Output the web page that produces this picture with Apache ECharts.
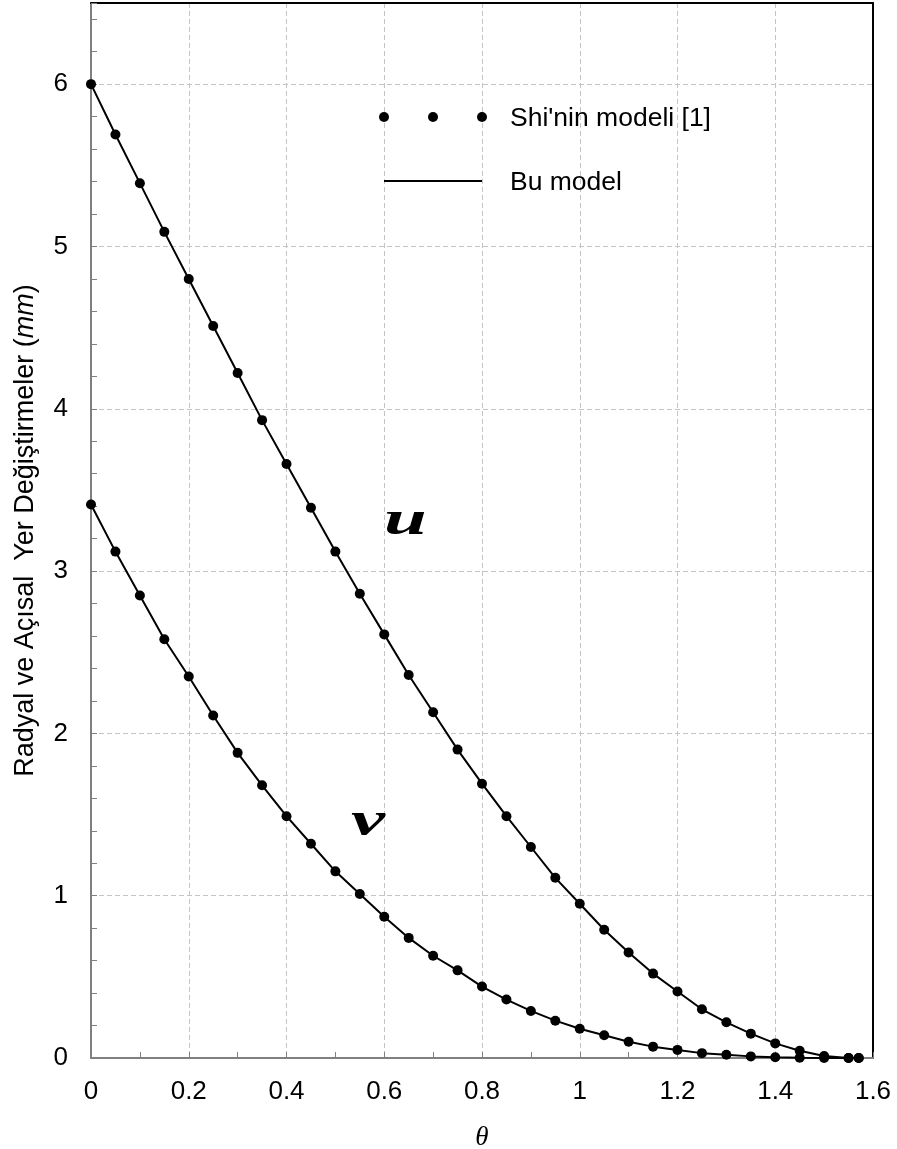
<!DOCTYPE html>
<html>
<head>
<meta charset="utf-8">
<script src="https://cdn.jsdelivr.net/npm/echarts@6/dist/echarts.min.js"></script>
<style>
  html, body { margin: 0; padding: 0; background: #fff; }
  #chart { width: 897px; height: 1149px; }
</style>
</head>
<body>
<div id="chart"></div>
<script>
// θ values (rad), from 0 to π/2
const theta = [0, 0.05, 0.1, 0.15, 0.2, 0.25, 0.3, 0.35, 0.4, 0.45, 0.5, 0.55, 0.6, 0.65, 0.7, 0.75,
  0.8, 0.85, 0.9, 0.95, 1.0, 1.05, 1.1, 1.15, 1.2, 1.25, 1.3, 1.35, 1.4, 1.45, 1.5, 1.55, 1.5708];

// radial displacement u (mm)
const uValues = [6.0, 5.69, 5.39, 5.09, 4.80, 4.51, 4.22, 3.93, 3.66, 3.39, 3.12, 2.86, 2.61, 2.36, 2.13, 1.90,
  1.69, 1.49, 1.30, 1.11, 0.95, 0.79, 0.65, 0.52, 0.41, 0.30, 0.22, 0.15, 0.09, 0.045, 0.012, 0.0, 0.0];

// angular displacement v (mm)
const vValues = [3.41, 3.12, 2.85, 2.58, 2.35, 2.11, 1.88, 1.68, 1.49, 1.32, 1.15, 1.01, 0.87, 0.74, 0.63, 0.54,
  0.44, 0.36, 0.29, 0.23, 0.18, 0.14, 0.10, 0.07, 0.05, 0.03, 0.02, 0.01, 0.005, 0.002, 0.0, 0.0, 0.0];

const legendNames = ["Shi'nin modeli [1]", 'Bu model'];
const curveLabels = ['u', 'v'];

const pairs = vals => theta.map((t, i) => [t, vals[i]]);

const sans = "'Liberation Sans', Arial, sans-serif";
const serif = "'Liberation Serif', 'Times New Roman', serif";
const gridLine = { show: true, lineStyle: { color: '#c4c4c4', type: [5, 3], width: 1 } };
const frameAxis = { axisLine: { show: true, onZero: false, lineStyle: { color: '#000', width: 2 } },
  axisTick: { show: false }, axisLabel: { show: false }, splitLine: { show: false } };

const chart = echarts.init(document.getElementById('chart'), null, { renderer: 'canvas' });

const lineSeries = (vals) => ({
  type: 'line', xAxisIndex: 0, yAxisIndex: 0, data: pairs(vals),
  smooth: false, showSymbol: false, silent: true,
  lineStyle: { color: '#000', width: 2 }, z: 3
});
const dotSeries = (vals) => ({
  type: 'scatter', xAxisIndex: 0, yAxisIndex: 0, data: pairs(vals),
  symbol: 'circle', symbolSize: 10, itemStyle: { color: '#000', opacity: 1 }, silent: true, z: 4
});

chart.setOption({
  animation: false,
  backgroundColor: '#fff',
  grid: { left: 91, right: 24, top: 3, bottom: 91, containLabel: false, outerBoundsMode: 'none' },
  xAxis: [{
    type: 'value', min: 0, max: 1.6, interval: 0.2,
    name: 'θ', nameLocation: 'middle', nameGap: 66,
    nameTextStyle: { fontFamily: serif, fontStyle: 'italic', fontSize: 27, color: '#000' },
    axisLine: { show: true, onZero: false, lineStyle: { color: '#808080', width: 2 } },
    axisTick: { show: true, inside: true, length: 6, lineStyle: { color: '#808080', width: 1 } },
    minorTick: { show: true, splitNumber: 2, length: 6, lineStyle: { color: '#808080', width: 1 } },
    axisLabel: { margin: 21, fontFamily: sans, fontSize: 26, color: '#000',
      formatter: v => String(Math.round(v * 10) / 10) },
    splitLine: gridLine
  }, Object.assign({ type: 'value', min: 0, max: 1.6, position: 'top' }, frameAxis)],
  yAxis: [{
    type: 'value', min: 0, max: 6.5, interval: 1,
    name: 'Radyal ve Açısal  Yer Değiştirmeler ({i|mm})', nameLocation: 'middle', nameGap: 52,
    nameTextStyle: { fontFamily: sans, fontSize: 27, color: '#000',
      rich: { i: { fontFamily: sans, fontSize: 27, fontStyle: 'italic', color: '#000' } } },
    axisLine: { show: true, onZero: false, lineStyle: { color: '#808080', width: 2 } },
    axisTick: { show: true, inside: true, length: 6, lineStyle: { color: '#808080', width: 1 } },
    axisLabel: { margin: 23, fontFamily: sans, fontSize: 26, color: '#000', showMaxLabel: false },
    splitLine: gridLine
  }, {
    // fine tick marks every 0.2 along the left edge
    type: 'value', min: 0, max: 6.5, interval: 0.2, position: 'left',
    axisLine: { show: false },
    axisTick: { show: true, inside: true, length: 6, lineStyle: { color: '#808080', width: 1 } },
    axisLabel: { show: false },
    splitLine: { show: false }
  }, Object.assign({ type: 'value', min: 0, max: 6.5, position: 'right' }, frameAxis)],
  series: [
    lineSeries(uValues), lineSeries(vValues),
    dotSeries(uValues), dotSeries(vValues)
  ],
  graphic: [
    // legend
    { type: 'circle', shape: { cx: 384, cy: 117, r: 5 }, style: { fill: '#000' }, z: 10 },
    { type: 'circle', shape: { cx: 433, cy: 117, r: 5 }, style: { fill: '#000' }, z: 10 },
    { type: 'circle', shape: { cx: 482, cy: 117, r: 5 }, style: { fill: '#000' }, z: 10 },
    { type: 'text', x: 510, y: 119, style: { text: legendNames[0], font: '26.5px ' + sans,
      fill: '#000', textVerticalAlign: 'middle' }, z: 10 },
    { type: 'line', shape: { x1: 384, y1: 181, x2: 482, y2: 181 }, style: { stroke: '#000', lineWidth: 2 }, z: 10 },
    { type: 'text', x: 510, y: 183, style: { text: legendNames[1], font: '26.5px ' + sans,
      fill: '#000', textVerticalAlign: 'middle' }, z: 10 },
    // curve labels
    { type: 'text', x: 384, y: 522, scaleX: 1.6, style: { text: curveLabels[0],
      font: 'italic bold 48px ' + serif, fill: '#000', textVerticalAlign: 'middle' }, z: 10 },
    { type: 'text', x: 351, y: 823, scaleX: 1.6, style: { text: curveLabels[1],
      font: 'italic bold 48px ' + serif, fill: '#000', textVerticalAlign: 'middle' }, z: 10 }
  ]
});
</script>
</body>
</html>
